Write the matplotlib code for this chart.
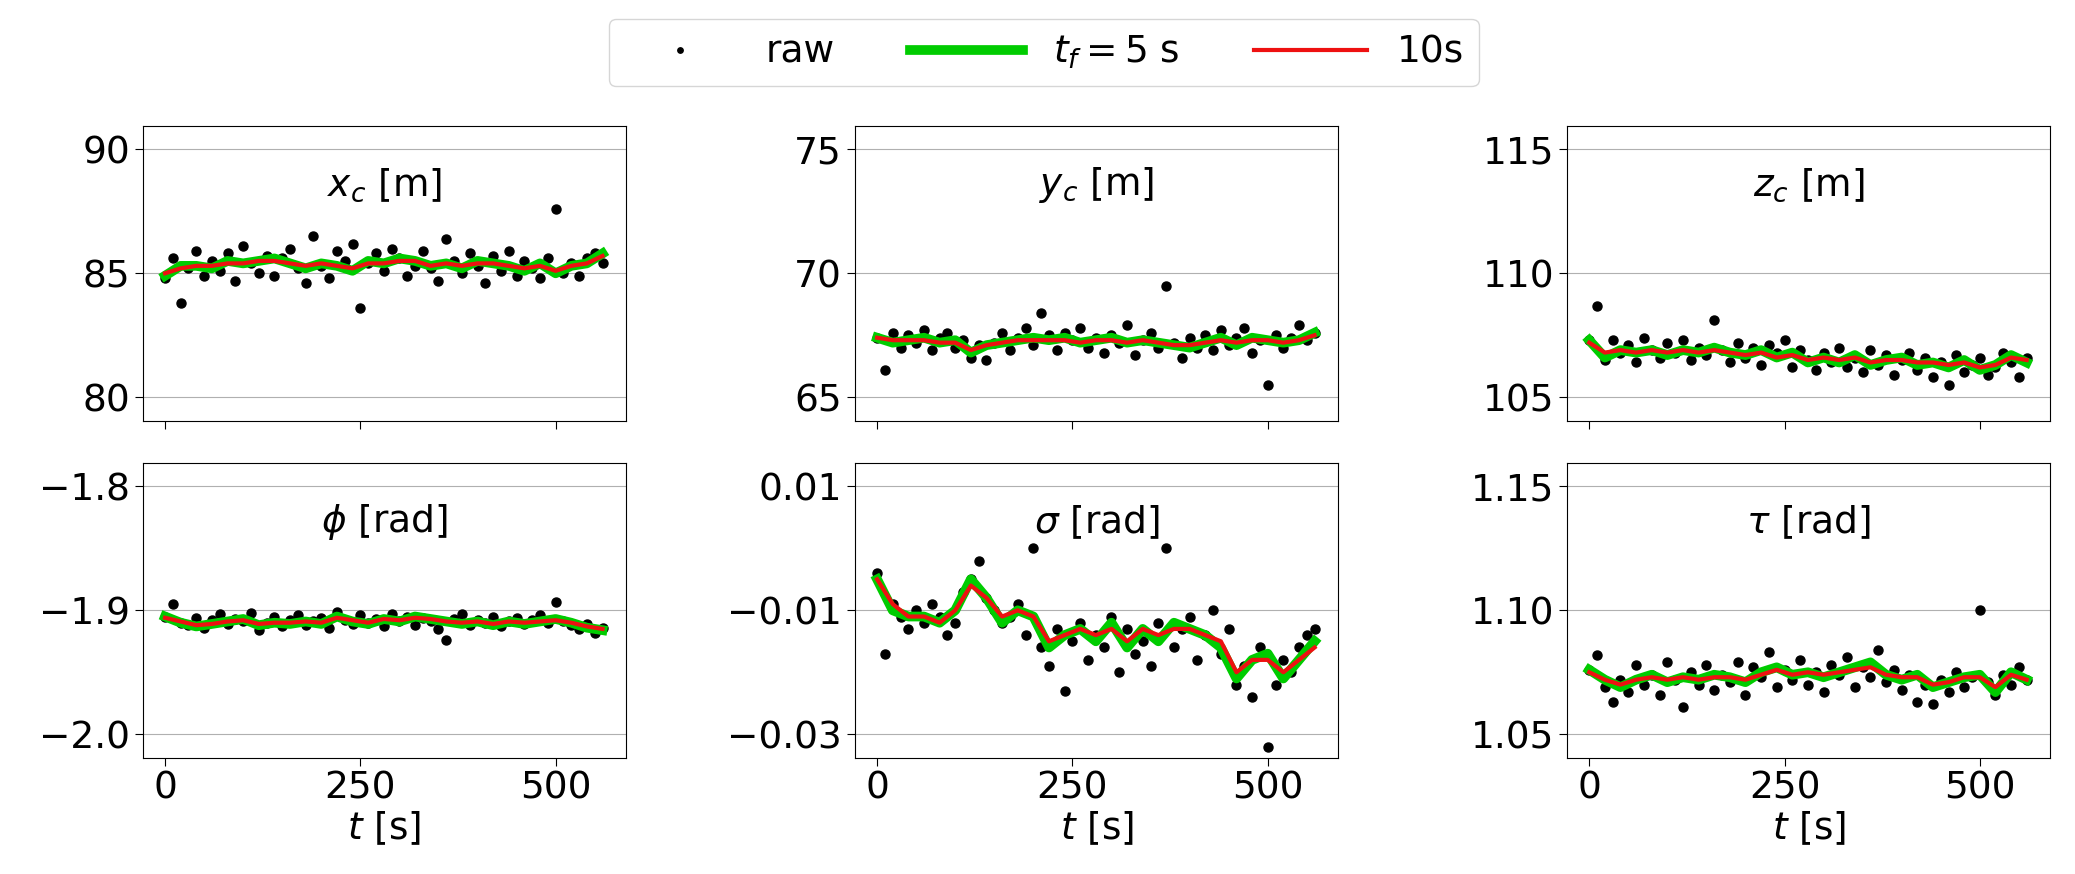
import numpy as np
import matplotlib
matplotlib.use("Agg")
import matplotlib.pyplot as plt

# raw samples, evenly spaced over 0..560 s
xc_raw = [84.8,85.6,83.8,85.2,85.9,84.9,85.5,85.1,85.8,84.7,86.1,85.4,85.0,85.7,84.9,85.6,86.0,85.2,84.6,86.5,
          85.3,84.8,85.9,85.5,86.2,83.6,85.4,85.8,85.1,86.0,85.6,84.9,85.3,85.9,85.2,84.7,86.4,85.5,85.0,85.8,
          85.3,84.6,85.7,85.1,85.9,84.9,85.5,85.2,84.8,85.6,87.6,85.0,85.4,84.9,85.6,85.8,85.4]
yc_raw = [67.4,66.1,67.6,67.0,67.5,67.2,67.7,66.9,67.4,67.6,67.0,67.3,66.6,67.1,66.5,67.2,67.6,66.9,67.4,67.8,
          67.1,68.4,67.5,66.9,67.6,67.3,67.8,67.0,67.4,66.8,67.5,67.2,67.9,66.7,67.3,67.6,67.0,69.5,67.2,66.6,
          67.4,67.0,67.5,66.9,67.7,67.1,67.4,67.8,66.8,67.3,65.5,67.5,67.0,67.4,67.9,67.3,67.6]
zc_raw = [107.3,108.7,106.5,107.3,106.8,107.1,106.4,107.4,106.9,106.6,107.2,106.8,107.3,106.5,107.0,106.7,108.1,106.9,
          106.4,107.2,106.6,107.0,106.3,107.1,106.8,107.3,106.2,106.9,106.5,106.1,106.8,106.4,107.0,106.2,106.6,106.0,
          106.9,106.3,106.7,105.9,106.5,106.8,106.1,106.6,105.8,106.4,105.5,106.7,106.0,106.3,106.6,105.9,106.2,106.8,
          106.4,105.8,106.6]
phi_raw = [-1.905,-1.895,-1.910,-1.912,-1.906,-1.914,-1.908,-1.903,-1.911,-1.907,-1.909,-1.902,-1.916,-1.910,-1.905,-1.913,
           -1.908,-1.904,-1.912,-1.909,-1.906,-1.914,-1.901,-1.908,-1.911,-1.904,-1.910,-1.907,-1.913,-1.903,-1.909,-1.905,
           -1.912,-1.906,-1.909,-1.915,-1.924,-1.907,-1.903,-1.912,-1.908,-1.910,-1.905,-1.913,-1.909,-1.906,-1.911,-1.908,
           -1.904,-1.910,-1.893,-1.909,-1.912,-1.915,-1.911,-1.918,-1.914]
sig_raw = [-0.004,-0.017,-0.009,-0.011,-0.013,-0.010,-0.012,-0.009,-0.011,-0.014,-0.012,-0.007,-0.005,-0.002,-0.008,-0.010,
           -0.012,-0.011,-0.009,-0.014,-0.000,-0.016,-0.019,-0.013,-0.023,-0.015,-0.012,-0.018,-0.014,-0.016,-0.011,-0.020,
           -0.013,-0.017,-0.015,-0.019,-0.012,-0.000,-0.016,-0.013,-0.011,-0.018,-0.014,-0.010,-0.017,-0.013,-0.022,-0.019,
           -0.024,-0.016,-0.032,-0.022,-0.018,-0.020,-0.016,-0.014,-0.013]
tau_raw = [1.076,1.082,1.069,1.063,1.072,1.067,1.078,1.070,1.074,1.066,1.079,1.072,1.061,1.075,1.070,1.078,1.068,1.074,
           1.071,1.079,1.066,1.077,1.073,1.083,1.069,1.076,1.072,1.080,1.070,1.075,1.067,1.078,1.074,1.081,1.069,1.077,
           1.073,1.084,1.071,1.076,1.068,1.074,1.063,1.070,1.062,1.072,1.067,1.075,1.069,1.073,1.100,1.071,1.066,1.074,
           1.070,1.077,1.072]

# filtered curves, evenly spaced over 0..560 s
xc_f5 = [84.9,85.3,85.3,85.2,85.5,85.4,85.5,85.6,85.4,85.2,85.4,85.3,85.1,85.5,85.4,85.6,85.5,85.3,85.4,85.2,
         85.5,85.4,85.3,85.1,85.4,85.0,85.3,85.4,85.8]
xc_f10 = [85.0,85.2,85.3,85.3,85.4,85.4,85.5,85.5,85.4,85.3,85.4,85.3,85.2,85.4,85.4,85.5,85.5,85.3,85.4,85.3,
          85.4,85.4,85.3,85.2,85.3,85.1,85.3,85.4,85.7]
yc_f5 = [67.4,67.2,67.3,67.4,67.2,67.3,66.8,67.1,67.2,67.3,67.4,67.3,67.4,67.2,67.3,67.4,67.2,67.3,67.2,67.1,
         67.0,67.2,67.4,67.1,67.4,67.3,67.2,67.3,67.6]
yc_f10 = [67.4,67.3,67.3,67.3,67.2,67.2,66.9,67.1,67.2,67.3,67.3,67.3,67.3,67.2,67.3,67.3,67.2,67.3,67.2,67.1,
          67.1,67.2,67.3,67.2,67.3,67.3,67.2,67.3,67.5]
zc_f5 = [107.3,106.6,106.9,106.8,106.9,106.7,106.9,106.8,107.0,106.8,106.7,106.9,106.6,106.8,106.4,106.6,106.4,
         106.7,106.3,106.5,106.6,106.3,106.4,106.2,106.5,106.1,106.3,106.7,106.4]
zc_f10 = [107.2,106.8,106.9,106.8,106.9,106.8,106.9,106.8,106.9,106.8,106.7,106.8,106.6,106.7,106.5,106.6,106.5,
          106.6,106.4,106.5,106.5,106.4,106.4,106.3,106.4,106.2,106.3,106.6,106.5]
phi_f5 = [-1.905,-1.910,-1.913,-1.911,-1.909,-1.907,-1.912,-1.910,-1.911,-1.909,-1.911,-1.905,-1.909,-1.911,-1.907,
          -1.909,-1.905,-1.907,-1.909,-1.911,-1.909,-1.912,-1.909,-1.911,-1.909,-1.907,-1.910,-1.914,-1.916]
phi_f10 = [-1.906,-1.909,-1.912,-1.911,-1.909,-1.908,-1.911,-1.910,-1.910,-1.909,-1.910,-1.906,-1.908,-1.910,-1.907,
           -1.908,-1.906,-1.907,-1.909,-1.910,-1.909,-1.911,-1.909,-1.910,-1.909,-1.908,-1.910,-1.913,-1.915]
sig_f5 = [-0.005,-0.010,-0.011,-0.011,-0.012,-0.010,-0.005,-0.008,-0.012,-0.010,-0.011,-0.016,-0.014,-0.013,-0.015,
          -0.012,-0.016,-0.013,-0.015,-0.012,-0.013,-0.014,-0.016,-0.021,-0.018,-0.017,-0.021,-0.018,-0.015]
sig_f10 = [-0.005,-0.009,-0.011,-0.011,-0.012,-0.010,-0.006,-0.008,-0.011,-0.010,-0.011,-0.015,-0.014,-0.013,-0.014,
           -0.013,-0.015,-0.013,-0.014,-0.013,-0.013,-0.014,-0.015,-0.020,-0.018,-0.018,-0.020,-0.018,-0.016]
tau_f5 = [1.076,1.072,1.069,1.072,1.074,1.071,1.073,1.072,1.074,1.073,1.071,1.075,1.077,1.074,1.075,1.073,1.075,
          1.077,1.079,1.074,1.072,1.074,1.069,1.071,1.073,1.074,1.067,1.075,1.072]
tau_f10 = [1.075,1.072,1.070,1.072,1.073,1.072,1.073,1.072,1.073,1.073,1.072,1.074,1.076,1.074,1.075,1.074,1.075,
           1.076,1.077,1.074,1.073,1.073,1.070,1.071,1.073,1.073,1.069,1.074,1.072]

labels = [r"$x_c$ [m]", r"$y_c$ [m]", r"$z_c$ [m]", r"$\phi$ [rad]", r"$\sigma$ [rad]", r"$\tau$ [rad]"]
raws = [xc_raw, yc_raw, zc_raw, phi_raw, sig_raw, tau_raw]
f5s = [xc_f5, yc_f5, zc_f5, phi_f5, sig_f5, tau_f5]
f10s = [xc_f10, yc_f10, zc_f10, phi_f10, sig_f10, tau_f10]
yticks = [[80, 85, 90], [65, 70, 75], [105, 110, 115],
          [-2.0, -1.9, -1.8], [-0.03, -0.01, 0.01], [1.05, 1.10, 1.15]]
yticklabels = [["80", "85", "90"], ["65", "70", "75"], ["105", "110", "115"],
               ["\u22122.0", "\u22121.9", "\u22121.8"], ["\u22120.03", "\u22120.01", "0.01"],
               ["1.05", "1.10", "1.15"]]
T_END = 560

plt.rcParams["font.size"] = 27
fig, axes = plt.subplots(2, 3, figsize=(20.75, 8.74), dpi=100, sharex=True)
fig.subplots_adjust(left=0.069, right=0.988, top=0.856, bottom=0.133, wspace=0.475, hspace=0.143)

for i, ax in enumerate(axes.flat):
    raw = raws[i]
    t_raw = np.linspace(0, T_END, len(raw))
    t_f = np.linspace(0, T_END, len(f5s[i]))
    ax.plot(t_raw, raw, "o", color="black", ms=6.5, label="raw", zorder=2)
    ax.plot(t_f, f5s[i], color="#00cc00", lw=7, label=r"$t_f = 5$ s", zorder=3)
    ax.plot(t_f, f10s[i], color="#ee1111", lw=3, label="10s", zorder=4)
    lo, hi = yticks[i][0], yticks[i][-1]
    pad = (hi - lo) * 0.095
    ax.set_ylim(lo - pad, hi + pad)
    ax.set_yticks(yticks[i])
    ax.set_yticklabels(yticklabels[i])
    ax.yaxis.grid(True, color="#b0b0b0")
    ax.set_xlim(-28, 590)
    ax.set_xticks([0, 250, 500])
    ax.tick_params(length=6)
    ax.text(0.5, 0.8, labels[i], transform=ax.transAxes, ha="center", va="center")
    if i >= 3:
        ax.set_xlabel(r"$t$ [s]", labelpad=2)

h, l = axes[0, 0].get_legend_handles_labels()
fig.legend(h, l, loc="upper center", ncol=3, bbox_to_anchor=(0.503, 1.0),
           markerscale=0.6, handlelength=3, columnspacing=2.0, fontsize=27)
fig.savefig("out.png", dpi=100)
